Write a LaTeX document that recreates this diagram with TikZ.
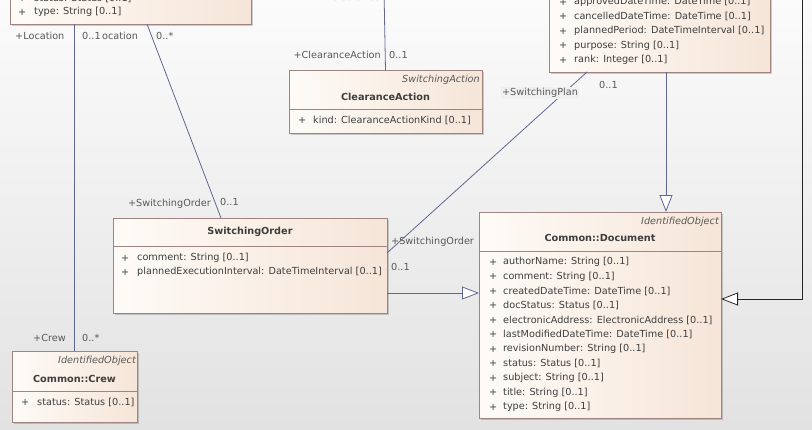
\documentclass[tikz,border=0pt]{standalone}
\usepackage{fontspec}
\setmainfont{DejaVu Sans}
\usetikzlibrary{arrows.meta,shadows}

\definecolor{umlline}{RGB}{96,104,146}
\definecolor{umlborder}{RGB}{160,132,130}
\definecolor{boxleft}{RGB}{254,251,247}
\definecolor{boxright}{RGB}{246,229,216}
\definecolor{umltext}{RGB}{62,62,62}
\definecolor{umlgray}{RGB}{88,88,88}
\definecolor{bgtop}{RGB}{251,251,251}
\definecolor{bgbot}{RGB}{226,226,226}
\definecolor{bgmid}{RGB}{240,240,240}

\begin{document}
\begin{tikzpicture}[x=1pt,y=-1pt,font=\fontsize{9.7}{11.5}\selectfont,
  classbox/.style={draw=umlborder,line width=0.7pt,left color=boxleft,right color=boxright,
    drop shadow={shadow xshift=1.5pt,shadow yshift=-1.5pt,fill=black,opacity=0.18},
    anchor=north west,inner sep=0pt,outer sep=0pt},
  sepline/.style={draw=umlborder,line width=0.7pt},
  stereo/.style={font=\fontsize{9.7}{11.5}\selectfont\itshape,text=umlgray,anchor=east,inner sep=0pt},
  cname/.style={font=\fontsize{9.7}{11.5}\selectfont\bfseries,text=umltext,inner sep=0pt},
  attr/.style={text=umltext,anchor=west,inner sep=0pt},
  role/.style={text=umlgray,inner sep=0pt},
  assoc/.style={draw=umlline,line width=0.8pt},
  gen/.style={draw=umlline,line width=0.8pt,-{Triangle[length=17pt,width=13pt,fill=white]}}]
\useasboundingbox (0,0) rectangle (812,429);
\clip (0,0) rectangle (812,429);
\shade[top color=bgtop,bottom color=bgbot] (0,0) rectangle (812,429);

% classes
\node[classbox,minimum width=241pt,minimum height=80pt] (loc) at (10,-56) {};
\node[classbox,minimum width=193pt,minimum height=63pt] (clr) at (289,70) {};
\node[classbox,minimum width=221pt,minimum height=132pt] (plan) at (549,-60) {};
\node[classbox,minimum width=274pt,minimum height=95pt] (ord) at (113,218) {};
\node[classbox,minimum width=242pt,minimum height=206pt] (doc) at (479,212) {};
\node[classbox,minimum width=125pt,minimum height=71pt] (crew) at (12,351) {};
\draw[sepline] ([yshift=-39pt]clr.north west) -- ([yshift=-39pt]clr.north east);
\draw[sepline] ([yshift=-28pt]ord.north west) -- ([yshift=-28pt]ord.north east);
\draw[sepline] ([yshift=-39pt]doc.north west) -- ([yshift=-39pt]doc.north east);
\draw[sepline] ([yshift=-40pt]crew.north west) -- ([yshift=-40pt]crew.north east);

% Location (cut off)
\foreach \a [count=\i from 0] in {{status: Status [0..1]},{type: String [0..1]}}{
  \node[attr] (loc-p\i) at (18,-2+14*\i) {+};
  \node[attr] (loc-a\i) at (34,-2+14*\i) {\a};
}

% ClearanceAction
\node[stereo] (clr-st) at (480,80) {SwitchingAction};
\node[cname] (clr-nm) at (385.5,97) {ClearanceAction};
\node[attr] (clr-p0) at (298,120) {+};
\node[attr] (clr-a0) at (313,120) {kind: ClearanceActionKind [0..1]};

% SwitchingPlan (cut off)
\foreach \a [count=\i from 0] in {{approvedDateTime: DateTime [0..1]},{cancelledDateTime: DateTime [0..1]},
  {plannedPeriod: DateTimeInterval [0..1]},{purpose: String [0..1]},{rank: Integer [0..1]}}{
  \node[attr] (plan-p\i) at (559,2+14.5*\i) {+};
  \node[attr] (plan-a\i) at (574,2+14.5*\i) {\a};
}

% SwitchingOrder
\node[cname] (ord-nm) at (250,232) {SwitchingOrder};
\foreach \a [count=\i from 0] in {{comment: String [0..1]},{plannedExecutionInterval: DateTimeInterval [0..1]}}{
  \node[attr] (ord-p\i) at (121,258+14*\i) {+};
  \node[attr] (ord-a\i) at (137,258+14*\i) {\a};
}

% Common::Document
\node[stereo] (doc-st) at (719,222) {IdentifiedObject};
\node[cname] (doc-nm) at (600,238) {Common::Document};
\foreach \a [count=\i from 0] in {{authorName: String [0..1]},{comment: String [0..1]},
  {createdDateTime: DateTime [0..1]},{docStatus: Status [0..1]},
  {electronicAddress: ElectronicAddress [0..1]},{lastModifiedDateTime: DateTime [0..1]},
  {revisionNumber: String [0..1]},{status: Status [0..1]},{subject: String [0..1]},
  {title: String [0..1]},{type: String [0..1]}}{
  \node[attr] (doc-p\i) at (489,262+14.5*\i) {+};
  \node[attr] (doc-a\i) at (503,262+14.5*\i) {\a};
}

% Common::Crew
\node[stereo] (crew-st) at (136,361) {IdentifiedObject};
\node[cname] (crew-nm) at (74.5,379) {Common::Crew};
\node[attr] (crew-p0) at (21,402) {+};
\node[attr] (crew-a0) at (37,402) {status: Status [0..1]};

% connectors
\coordinate (loc-b) at (147,24);
\coordinate (ord-t) at (221,218);
\coordinate (clr-up) at (384,-10);
\coordinate (plan-b) at (587,72);
\coordinate (ord-r) at (387,253);
\coordinate (plan-c) at (666,72);
\coordinate (ord-g) at (387,293);
\coordinate (frame) at (802,-10);
\coordinate (doc-r) at (721,299);
\draw[assoc] (crew.north |- loc.south) -- (crew.north);
\draw[assoc] (loc-b) -- (ord-t);
\draw[assoc] (clr.north) -- (clr-up);
\draw[assoc] (plan-b) -- (ord-r);
\draw[gen] (plan-c) -- (plan-c |- doc.north);
\draw[gen] (ord-g) -- (doc.west |- ord-g);
\draw[gen,draw=black!85] (frame) |- (doc-r);

% role names and multiplicities
\node[role,anchor=west] (r-loc1) at (15,36) {+Location};
\node[role,anchor=west] (m-loc1) at (82,36) {0..1};
\node[role,anchor=west] (r-loc2) at (102,36) {ocation};
\node[role,anchor=west] (m-loc2) at (156,36) {0..*};
\node[role,anchor=east] (r-clr0) at (380,-3) {+Clearance};
\node[role,anchor=west] (m-clr0) at (389,-3) {0..1};
\node[role,anchor=east] (r-clr) at (381,55) {+ClearanceAction};
\node[role,anchor=west] (m-clr) at (389,55) {0..1};
\node[role,fill=bgmid,inner sep=1pt] (r-plan) at (540,93) {+SwitchingPlan};
\node[role,anchor=west] (m-plan) at (599,85) {0..1};
\node[role,anchor=east] (r-ord1) at (211,204) {+SwitchingOrder};
\node[role,anchor=west] (m-ord1) at (220,202) {0..1};
\node[role,anchor=west] (r-ord2) at (391,242) {+SwitchingOrder};
\node[role,anchor=west] (m-ord2) at (391,267) {0..1};
\node[role,anchor=east] (r-crew) at (66,338) {+Crew};
\node[role,anchor=west] (m-crew) at (82,338) {0..*};
\end{tikzpicture}
\end{document}
